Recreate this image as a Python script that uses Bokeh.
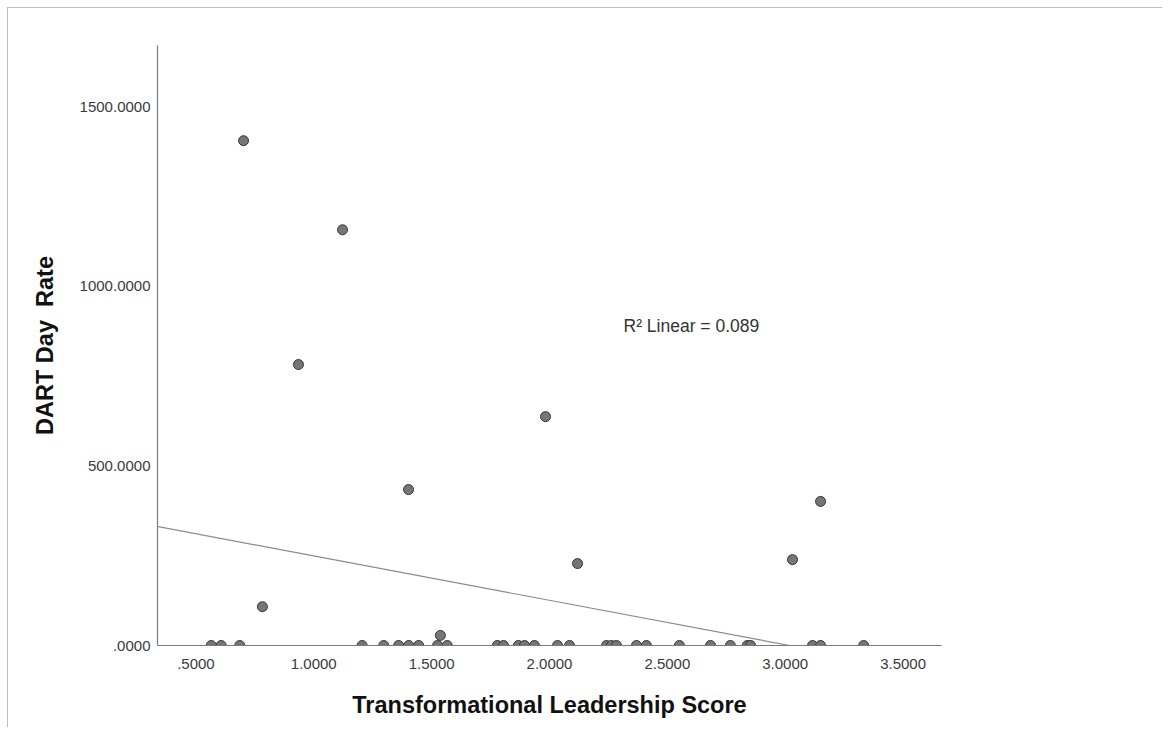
from bokeh.plotting import figure
from bokeh.models import Range1d, FixedTicker, Label, Slope, ColumnDataSource, BoxAnnotation
from bokeh.embed import file_html
from bokeh.resources import INLINE

# Transformational Leadership Score (x) vs DART Day Rate (y)
score = [0.702, 1.122, 0.935, 1.983, 1.402, 3.150, 3.031, 2.119, 0.782, 1.537,
         0.565, 0.607, 0.686, 1.205, 1.297, 1.360, 1.403, 1.445, 1.525, 1.566,
         1.779, 1.805, 1.868, 1.894, 1.936, 2.034, 2.085, 2.242, 2.263, 2.284,
         2.369, 2.411, 2.551, 2.683, 2.767, 2.839, 2.853, 3.116, 3.150, 3.333]
dart = [1405, 1157, 782, 637, 434, 401, 239, 228, 108, 28,
        0, 0, 0, 0, 0, 0, 0, 0, 0, 0,
        0, 0, 0, 0, 0, 0, 0, 0, 0, 0,
        0, 0, 0, 0, 0, 0, 0, 0, 0, 0]

# linear fit line (as reported by the chart)
fit_intercept = 372.6
fit_slope = -123.4
r2_text = "R\u00b2 Linear = 0.089"

x_ticks = [0.5, 1, 1.5, 2, 2.5, 3, 3.5]
x_tick_labels = [".5000", "1.0000", "1.5000", "2.0000", "2.5000", "3.0000", "3.5000"]
y_ticks = [0, 500, 1000, 1500]
y_tick_labels = [".0000", "500.0000", "1000.0000", "1500.0000"]

FONT = "Liberation Sans"

p = figure(width=1155, height=720, output_backend="svg", toolbar_location=None,
           x_range=Range1d(0.337, 3.663), y_range=Range1d(0, 1670),
           min_border_left=149, min_border_right=222, min_border_top=37, min_border_bottom=83)
p.styles = {"margin-top": "7px", "margin-left": "7px",
            "border-top": "1px solid #bdbdbd", "border-left": "1px solid #bdbdbd"}
p.background_fill_color = "white"
p.border_fill_color = "white"
p.outline_line_color = None
p.xgrid.visible = False
p.ygrid.visible = False

for ax in (p.xaxis[0], p.yaxis[0]):
    ax.axis_line_color = "#7a7a7a"
    ax.axis_line_width = 1.2
    ax.major_tick_line_color = None
    ax.minor_tick_line_color = None
    ax.major_tick_out = 0
    ax.major_tick_in = 0
    ax.minor_tick_out = 0
    ax.major_label_text_font = FONT
    ax.major_label_text_font_size = "15px"
    ax.major_label_text_color = "#3a3a3a"
    ax.axis_label_text_font = FONT
    ax.axis_label_text_font_style = "bold"
    ax.axis_label_text_font_size = "23.5px"
    ax.axis_label_text_color = "#111111"

p.xaxis.ticker = FixedTicker(ticks=x_ticks)
p.xaxis.major_label_overrides = dict(zip(x_ticks, x_tick_labels))
p.yaxis.ticker = FixedTicker(ticks=y_ticks)
p.yaxis.major_label_overrides = dict(zip(y_ticks, y_tick_labels))
p.xaxis.axis_label = "Transformational Leadership Score"
p.yaxis.axis_label = "DART Day\u00a0 Rate"
p.xaxis.major_label_standoff = 13
p.yaxis.major_label_standoff = 7
p.xaxis.axis_label_standoff = 20
p.yaxis.axis_label_standoff = 19

p.add_layout(Slope(gradient=fit_slope, y_intercept=fit_intercept,
                   line_color="#8a8a8a", line_width=1.2))

src = ColumnDataSource(dict(x=score, y=dart))
p.scatter("x", "y", source=src, size=10, marker="circle",
          fill_color="#767676", line_color="#363636", line_width=1)

# hide the part of the markers that falls below the x axis (SPSS clips at the frame)
p.add_layout(BoxAnnotation(top=0, bottom=-60, left=0.2, right=3.8,
                           fill_color="white", fill_alpha=1, line_color=None,
                           level="glyph"))

p.add_layout(Label(x=2.314, y=890, text=r2_text, text_font=FONT,
                   text_font_size="17.5px", text_color="#333333",
                   text_baseline="middle", text_align="left"))

open("out.html", "w").write(file_html(p, INLINE))
